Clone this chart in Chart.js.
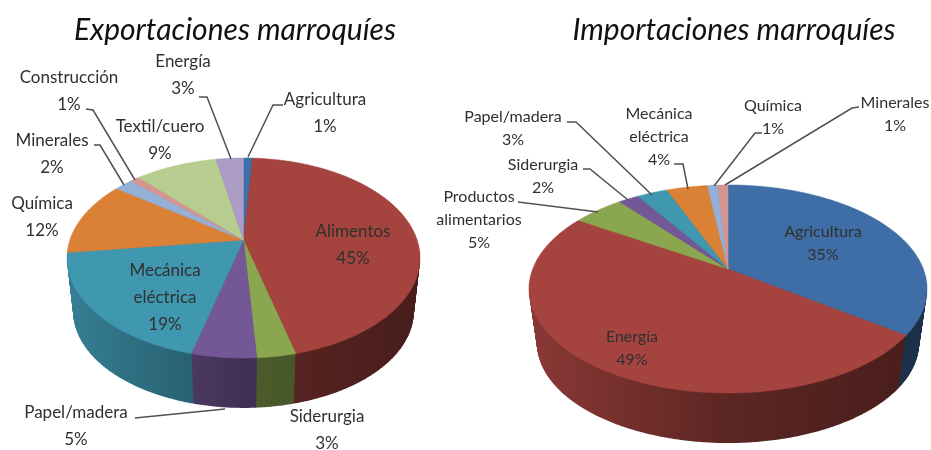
<!DOCTYPE html>
<html>
<head>
<meta charset="utf-8">
<script src="https://cdn.jsdelivr.net/npm/chart.js@4"></script>
<style>
html, body { margin: 0; padding: 0; background: #fff; overflow: hidden; }
#wrap { position: relative; width: 931px; height: 450px; }
canvas { position: absolute; top: 0; filter: blur(0.45px); }
</style>
</head>
<body>
<div id="wrap">
    <canvas id="exports" width="436" height="450" style="left:0"></canvas>
    <canvas id="imports" width="495" height="450" style="left:436px"></canvas>
</div>
<script>
// DATA
const exportCategories = ['Agricultura', 'Alimentos', 'Siderurgia', 'Papel/madera', 'Mecánica eléctrica', 'Química', 'Minerales', 'Construcción', 'Textil/cuero', 'Energía']
const exportValues = [1, 45, 3, 5, 19, 12, 2, 1, 9, 3]
const exportColors = ['#3d70a8', '#a5433f', '#8aa64f', '#745797', '#3f97b0', '#da8136', '#95b0d6', '#d49593', '#b7cd90', '#ab9dc5']

const importCategories = ['Agricultura', 'Energía', 'Productos alimentarios', 'Siderurgia', 'Papel/madera', 'Mecánica eléctrica', 'Química', 'Minerales']
const importValues = [35, 49, 5, 2, 3, 4, 1, 1]
const importColors = ['#3f6ea6', '#a5433f', '#8aa64f', '#745797', '#3f97b0', '#da8136', '#95b0d6', '#d49593']

// label centres and leader lines, one per category, in canvas pixels
const exportPlacement = [
    { x: 325, y: 100, line: [[283, 105], [273, 105], [248, 157]] },
    { x: 353, y: 232 },
    { x: 327, y: 417 },
    { x: 76, y: 413, line: [[135, 418], [225, 409]] },
    { x: 165, y: 271 },
    { x: 42, y: 204 },
    { x: 52, y: 141, line: [[94, 145], [100, 145], [124, 185]] },
    { x: 69, y: 78, line: [[86, 109], [93, 110], [135, 180]] },
    { x: 160, y: 127 },
    { x: 183, y: 62, line: [[199, 97], [207, 97], [231, 159]] }
]
const importPlacement = [
    { x: 387, y: 232 },
    { x: 196, y: 337 },
    { x: 43, y: 197, line: [[82, 202], [162, 212]] },
    { x: 107, y: 165, line: [[147, 169], [154, 169], [192, 200]] },
    { x: 77, y: 117, line: [[131, 122], [140, 122], [216, 195]] },
    { x: 223, y: 114, line: [[238, 164], [247, 164], [252, 189]] },
    { x: 337, y: 106, line: [[326, 133], [319, 133], [278, 186]] },
    { x: 459, y: 103, line: [[423, 107], [416, 108], [289, 185]] }
]

const exportGeometry = { cx: 243.5, cy: 240, s: 173.6, k: 96.8, p: 0.18, depth: 54, shrink: 0.965, left: 67, right: 420 }
const importGeometry = { cx: 292, cy: 269, s: 195.3, k: 100.2, p: 0.192, depth: 55, shrink: 0.96, left: 93, right: 491 }

function project(geo, theta, f, dy) {
    const u = Math.sin(theta)
    const v = -Math.cos(theta)
    const w = 1 - geo.p * v
    return [geo.cx + geo.s * f * u / w, geo.cy + dy + geo.k * f * v / w]
}

function shade(hex, factor) {
    const n = parseInt(hex.slice(1), 16)
    const c = [n >> 16, (n >> 8) & 255, n & 255].map(v => Math.round(v * factor))
    return `rgb(${c[0]},${c[1]},${c[2]})`
}

function sideGradient(ctx, geo, color) {
    const g = ctx.createLinearGradient(geo.left, 0, geo.right, 0)
    g.addColorStop(0, shade(color, 0.84))
    g.addColorStop(0.5, shade(color, 0.56))
    g.addColorStop(1, shade(color, 0.43))
    return g
}

function wedgePath(ctx, geo, w, f, dy) {
    const steps = Math.max(2, Math.ceil((w.a1 - w.a0) / 0.01))
    ctx.beginPath()
    ctx.moveTo(geo.cx, geo.cy + dy)
    for (let i = 0; i <= steps; i++) {
        const pt = project(geo, w.a0 + (w.a1 - w.a0) * i / steps, f, dy)
        ctx.lineTo(pt[0], pt[1])
    }
    ctx.closePath()
}

const tiltedPie = {
    id: 'tiltedPie',
    beforeDatasetsDraw(chart, args, opts) {
        const ctx = chart.ctx
        const geo = opts.geometry
        const arcs = chart.getDatasetMeta(0).data

        const wedges = arcs.map(arc => ({
            a0: arc.startAngle + Math.PI / 2,
            a1: arc.endAngle + Math.PI / 2,
            color: arc.options.backgroundColor
        }))

        // side wall: stack the wedges from the bottom rim up to the top face
        const sides = wedges.map(w => sideGradient(ctx, geo, w.color))
        for (let d = geo.depth; d > 0; d--) {
            const f = 1 + (geo.shrink - 1) * d / geo.depth
            wedges.forEach((w, i) => {
                wedgePath(ctx, geo, w, f, d)
                ctx.fillStyle = sides[i]
                ctx.fill()
            })
        }

        // top face
        wedges.forEach(w => {
            wedgePath(ctx, geo, w, 1, 0)
            ctx.fillStyle = w.color
            ctx.strokeStyle = w.color
            ctx.lineWidth = 0.5
            ctx.fill()
            ctx.stroke()
        })

        // leader lines
        ctx.strokeStyle = '#505050'
        ctx.lineWidth = 1.5
        opts.placement.forEach(place => {
            if (!place.line) return
            ctx.beginPath()
            place.line.forEach((pt, i) => i ? ctx.lineTo(pt[0], pt[1]) : ctx.moveTo(pt[0], pt[1]))
            ctx.stroke()
        })

        // labels
        ctx.font = `${opts.fontSize}px Lato`
        ctx.textAlign = 'center'
        ctx.textBaseline = 'middle'
        ctx.fillStyle = '#303030'
        chart.data.labels.forEach((label, i) => {
            const place = opts.placement[i]
            const lines = label.split(' ').concat(chart.data.datasets[0].data[i] + '%')
            lines.forEach((text, j) => ctx.fillText(text, place.x, place.y + j * opts.lineHeight))
        })
        return false
    }
}

function drawPie(id, title, categories, values, colors, geometry, placement, fontSize, lineHeight, padLeft) {
    new Chart(document.getElementById(id), {
        type: 'pie',
        data: {
            labels: categories,
            datasets: [{ data: values, backgroundColor: colors, borderWidth: 0 }]
        },
        options: {
            responsive: false,
            animation: false,
            layout: { padding: { left: padLeft } },
            plugins: {
                legend: { display: false },
                tooltip: { enabled: false },
                title: {
                    display: true,
                    text: title,
                    color: '#111',
                    font: { family: 'Lato', size: 30, style: 'italic', weight: 'normal' },
                    padding: { top: 12, bottom: 10 }
                },
                tiltedPie: { geometry, placement, fontSize, lineHeight }
            }
        },
        plugins: [tiltedPie]
    })
}

drawPie('exports', 'Exportaciones marroquíes', exportCategories, exportValues, exportColors, exportGeometry, exportPlacement, 17, 27, 34)
drawPie('imports', 'Importaciones marroquíes', importCategories, importValues, importColors, importGeometry, importPlacement, 16, 23, 101)
</script>
</body>
</html>
